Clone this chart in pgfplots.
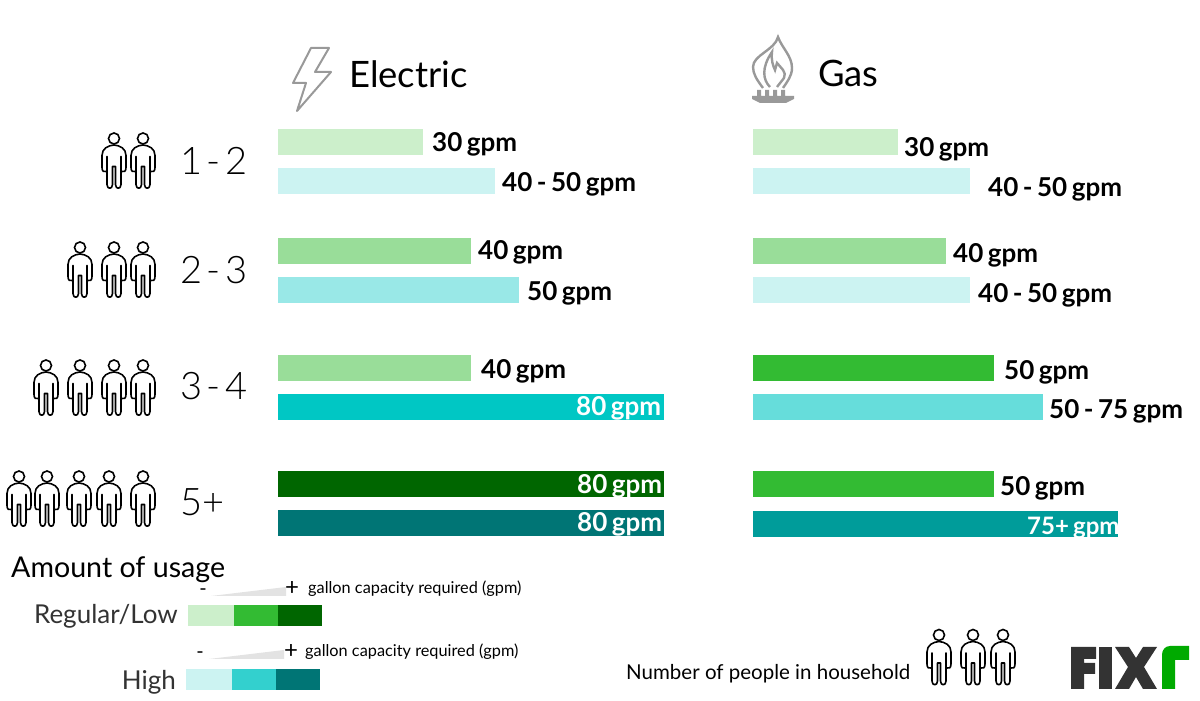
\documentclass[border=0pt]{standalone}
\usepackage{fontspec}
\usepackage{pgfplots}
\pgfplotsset{compat=1.18}
\setmainfont{Lato}
\newfontfamily\lightfont[WordSpace=0.45]{Lato Light}
\newfontfamily\barfont[WordSpace=0.72]{Lato}

\definecolor{greenA}{HTML}{CCEFCB}
\definecolor{greenB}{HTML}{99DD99}
\definecolor{greenC}{HTML}{33BB33}
\definecolor{greenD}{HTML}{006600}
\definecolor{tealA}{HTML}{CCF3F2}
\definecolor{tealB}{HTML}{99E8E7}
\definecolor{tealC}{HTML}{66DDDB}
\definecolor{tealD}{HTML}{33D0CE}
\definecolor{tealE}{HTML}{00C7C4}
\definecolor{tealF}{HTML}{009C9A}
\definecolor{tealG}{HTML}{007575}
\definecolor{icon}{HTML}{999999}
\definecolor{wedge}{HTML}{E3E3E3}
\definecolor{logo}{HTML}{333333}
\definecolor{logog}{HTML}{00AA00}

\pgfplotsset{panel/.style={
    width=386pt, height=701pt, scale only axis,
    xmin=0, xmax=80, ymin=0, ymax=701,
    y dir=reverse, hide axis, clip=false,
}}

% value, row y (px), colour, label, label left (px from axis), label baseline (px), label colour
\newcommand{\gpmbar}[7]{%
  \addplot[xbar, bar shift=0pt, bar width=26pt, draw=none, fill=#3] coordinates {(#1,#2)};
  \node[anchor=base west, inner sep=0pt, text=#7, font=\barfont\fontsize{26}{26}\selectfont\bfseries]
    at (axis cs:0,#6) [xshift=#5pt] {#4};
}

% head centre in px, drawn in the page scope
\newcommand{\person}[2]{%
  \begin{scope}[shift={(#1,#2)}]
    \draw[black, line width=1.6pt] (0,0) circle (5.5);
    \draw[black, line width=1.6pt, line join=round, line cap=round]
      (-7.5,33) .. controls (-10,34) and (-12,33) .. (-12,29)
      -- (-12,17) .. controls (-12,10) and (-6,7) .. (0,6.5)
      .. controls (6,7) and (12,10) .. (12,17)
      -- (12,29) .. controls (12,33) and (10,34) .. (7.5,33);
    \draw[black, line width=1.6pt, line join=round, line cap=round]
      (-7,18) -- (-7,46) .. controls (-7,51) and (-1.5,51) .. (-1.5,46)
      -- (-1.5,28) -- (1.5,28) -- (1.5,46) .. controls (1.5,51) and (7,51) .. (7,46)
      -- (7,18);
  \end{scope}
}

\begin{document}
\begin{tikzpicture}
\path[use as bounding box] (0,0) rectangle (1200pt,701pt);

% Electric
\begin{axis}[panel, at={(278pt,0pt)}]
\gpmbar{30}{142}{greenA}{30 gpm}{154}{152}{black}
\gpmbar{45}{181}{tealA}{40 - 50 gpm}{224}{192}{black}
\gpmbar{40}{251}{greenB}{40 gpm}{200}{260}{black}
\gpmbar{50}{290}{tealB}{50 gpm}{249}{301}{black}
\gpmbar{40}{368}{greenB}{40 gpm}{203}{378}{black}
\gpmbar{80}{407}{tealE}{80 gpm}{298}{415}{white}
\gpmbar{80}{484}{greenD}{80 gpm}{299}{493}{white}
\gpmbar{80}{523}{tealG}{80 gpm}{299}{531}{white}
\end{axis}

% Gas
\begin{axis}[panel, at={(753pt,0pt)}]
\gpmbar{30}{142}{greenA}{30 gpm}{151}{157}{black}
\gpmbar{45}{181}{tealA}{40 - 50 gpm}{235}{197}{black}
\gpmbar{40}{251}{greenB}{40 gpm}{200}{263}{black}
\gpmbar{45}{290}{tealA}{40 - 50 gpm}{225}{302}{black}
\gpmbar{50}{368}{greenC}{50 gpm}{251}{379}{black}
\gpmbar{60}{407}{tealC}{50 - 75 gpm}{296}{418}{black}
\gpmbar{50}{484}{greenC}{50 gpm}{247}{495}{black}
\gpmbar{75.7}{524}{tealF}{\fontsize{24}{26}\selectfont 75+ gpm}{274}{534}{white}
\end{axis}

% everything else in image pixels, y downwards
\begin{scope}[x=1pt, y=-1pt, yshift=701pt]
\tikzset{txt/.style={anchor=base west, inner sep=0pt}}

\node[txt, font=\fontsize{36.4}{36}\selectfont] at (349,88) {Electric};
\node[txt, font=\fontsize{36.4}{36}\selectfont] at (818,87) {Gas};

% bolt
\draw[icon, line width=2pt, line join=round]
  (311,48) -- (329,48) -- (315,72) -- (331,72) -- (297,111) -- (306,83) -- (293,83) -- cycle;
% flame and burner
\draw[icon, line width=2.4pt]
  (763,88) .. controls (757,80) and (753,74) .. (753,67)
  .. controls (753,55) and (775,50) .. (778,37)
  .. controls (782,48) and (792,56) .. (792,68)
  .. controls (792,76) and (787,82) .. (783,88);
\draw[icon, line width=2.4pt]
  (770,87) .. controls (763,80) and (761,68) .. (772,52)
  .. controls (771,60) and (773,66) .. (775,70)
  -- (777,63) .. controls (781,68) and (787,72) .. (784,78) -- (777,87);
\fill[icon] (752,96) -- (757,96) -- (757,90) -- (761,90) -- (761,96) -- (765,96) -- (765,90)
  -- (769,90) -- (769,96) -- (773,96) -- (773,90) -- (777,90) -- (777,96) -- (781,96)
  -- (781,90) -- (785,90) -- (785,96) -- (794,96) -- (794,99) -- (786,103) -- (760,103) -- (752,99) -- cycle;

% row labels
\foreach \t/\yy in {1 - 2/175, 2 - 3/284, 3 - 4/400, 5+/516}
  {\node[txt, font=\lightfont\fontsize{38}{38}\selectfont] at (180,\yy) {\t};}

\foreach \x in {114,143} {\person{\x}{138.5}}
\foreach \x in {80,114,143} {\person{\x}{247.5}}
\foreach \x in {46,80,114,143} {\person{\x}{365.5}}
\foreach \x in {19,47,79,109,143} {\person{\x}{476.5}}
\foreach \x in {939,973,1003} {\person{\x}{635}}

% usage key
\node[txt, font=\fontsize{28.6}{29}\selectfont] at (11,578) {Amount of usage};
\node[anchor=base east, inner sep=0pt, text=black!80, font=\fontsize{26}{26}\selectfont] at (178,624) {Regular/Low};
\node[anchor=base east, inner sep=0pt, text=black!80, font=\fontsize{26}{26}\selectfont] at (176,690) {High};

\fill[greenA] (188,605) rectangle (234,626);
\fill[greenC] (234,605) rectangle (278,626);
\fill[greenD] (278,605) rectangle (322,626);
\fill[tealA] (186,669) rectangle (232,690);
\fill[tealD] (232,669) rectangle (276,690);
\fill[tealG] (276,669) rectangle (320,690);

\fill[wedge] (211,596) -- (286,587) -- (286,596) -- cycle;
\fill[wedge] (209,659) -- (284,650) -- (284,659) -- cycle;
\node[font=\fontsize{20}{20}\selectfont] at (203,592) {-};
\node[font=\fontsize{24}{24}\selectfont] at (292,589) {+};
\node[font=\fontsize{20}{20}\selectfont] at (200,655) {-};
\node[font=\fontsize{24}{24}\selectfont] at (291,652) {+};
\node[txt, font=\fontsize{16.3}{16.5}\selectfont] at (308,594) {gallon capacity required (gpm)};
\node[txt, font=\fontsize{16.3}{16.5}\selectfont] at (305,657) {gallon capacity required (gpm)};

\node[txt, font=\fontsize{20.5}{20}\selectfont] at (626,680) {Number of people in household};

% logo
\fill[logo] (1071,647) -- (1096,647) -- (1096,659) -- (1084,659) -- (1084,663) -- (1095,663)
  -- (1095,674) -- (1084,674) -- (1084,689) -- (1071,689) -- cycle;
\fill[logo] (1099,647) rectangle (1112,689);
\fill[logo] (1115,647) -- (1129,647) -- (1136,658) -- (1143,647) -- (1157,647) -- (1144,667)
  -- (1157,689) -- (1143,689) -- (1136,677) -- (1129,689) -- (1115,689) -- (1128,667) -- cycle;
\fill[logog] (1162,689) -- (1162,655) .. controls (1162,650) and (1165,646) .. (1170,646)
  -- (1189,646) -- (1189,660) -- (1175,660) -- (1175,689) -- cycle;
\end{scope}
\end{tikzpicture}
\end{document}
